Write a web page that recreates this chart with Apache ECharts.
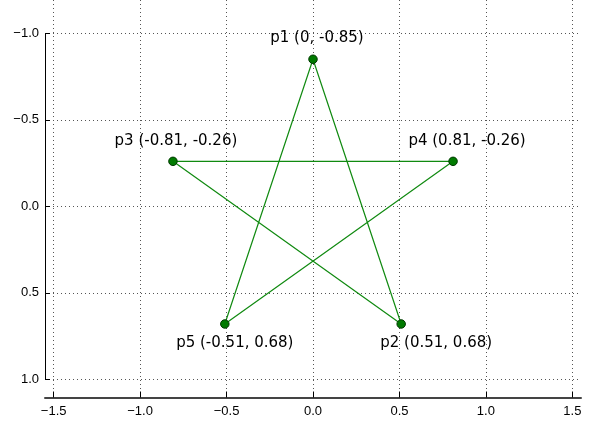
<!DOCTYPE html>
<html>
<head>
<meta charset="utf-8">
<script src="https://cdn.jsdelivr.net/npm/echarts@6/dist/echarts.min.js"></script>
<style>html,body{margin:0;padding:0;background:#fff;}#c{width:600px;height:424px;}</style>
</head>
<body>
<div id="c"></div>
<script>
var pointNames = ['p1', 'p2', 'p3', 'p4', 'p5'];
var pointX = [0, 0.51, -0.81, 0.81, -0.51];
var pointY = [-0.85, 0.68, -0.26, -0.26, 0.68];
var starOrder = [0, 1, 2, 3, 4, 0];
var xTicks = [-1.5, -1.0, -0.5, 0.0, 0.5, 1.0, 1.5];
var yTicks = [-1.0, -0.5, 0.0, 0.5, 1.0];
var labelOffsets = [[4, -21], [35, 19], [3, -20], [14, -20], [10, 19]];

var xMin = -1.55, xMax = 1.55, yMin = -1.1925, yMax = 1.105;

function fmtTick(v) { return v.toFixed(1).replace('-', '\u2212'); }

var lineData = starOrder.map(function (i) { return [pointX[i], pointY[i]]; });
var scatterData = pointNames.map(function (n, i) {
  return {
    value: [pointX[i], pointY[i]],
    name: n,
    label: { offset: labelOffsets[i] }
  };
});

var chart = echarts.init(document.getElementById('c'), null, { renderer: 'canvas' });
chart.setOption({
  animation: false,
  backgroundColor: '#fff',
  grid: { left: 45, right: 19, top: 0, bottom: 26.5, containLabel: false },
  xAxis: {
    type: 'value', min: xMin, max: xMax,
    axisLine: { show: true, onZero: false, lineStyle: { color: '#444', width: 2 } },
    axisTick: { show: true, inside: true, length: 6, customValues: xTicks, lineStyle: { color: '#000', width: 1 } },
    axisLabel: { show: true, customValues: xTicks, formatter: fmtTick, margin: 7, color: '#000', fontFamily: 'Liberation Sans', fontSize: 13 },
    splitLine: { show: true, lineStyle: { color: '#555', width: 1, type: [1, 3] } }
  },
  yAxis: {
    type: 'value', min: yMin, max: yMax, inverse: true,
    axisLine: { show: false, onZero: false },
    axisTick: { show: true, inside: true, length: 5, customValues: yTicks, lineStyle: { color: '#000', width: 1 } },
    axisLabel: { show: true, customValues: yTicks, formatter: fmtTick, margin: 6, color: '#000', fontFamily: 'Liberation Sans', fontSize: 13 },
    splitLine: { show: true, lineStyle: { color: '#555', width: 1, type: [1, 3] } }
  },
  series: [
    {
      type: 'line',
      data: lineData,
      showSymbol: false,
      symbol: 'none',
      lineStyle: { color: '#108a10', width: 1.2 },
      silent: true,
      markLine: {
        silent: true, symbol: 'none', animation: false,
        label: { show: false },
        lineStyle: { color: '#000', width: 1, type: 'solid' },
        data: [[{ coord: [xMin, yTicks[0]] }, { coord: [xMin, yTicks[yTicks.length - 1]] }]]
      }
    },
    {
      type: 'scatter',
      data: scatterData,
      symbol: 'circle',
      symbolSize: 8.5,
      itemStyle: { color: '#007a00', borderColor: '#003800', borderWidth: 1, opacity: 1 },
      label: {
        show: true, position: 'inside',
        formatter: function (p) { return p.name + ' (' + p.value[0] + ', ' + p.value[1] + ')'; },
        color: '#000', fontFamily: 'DejaVu Sans', fontSize: 15
      },
      z: 5
    }
  ]
});
</script>
</body>
</html>
